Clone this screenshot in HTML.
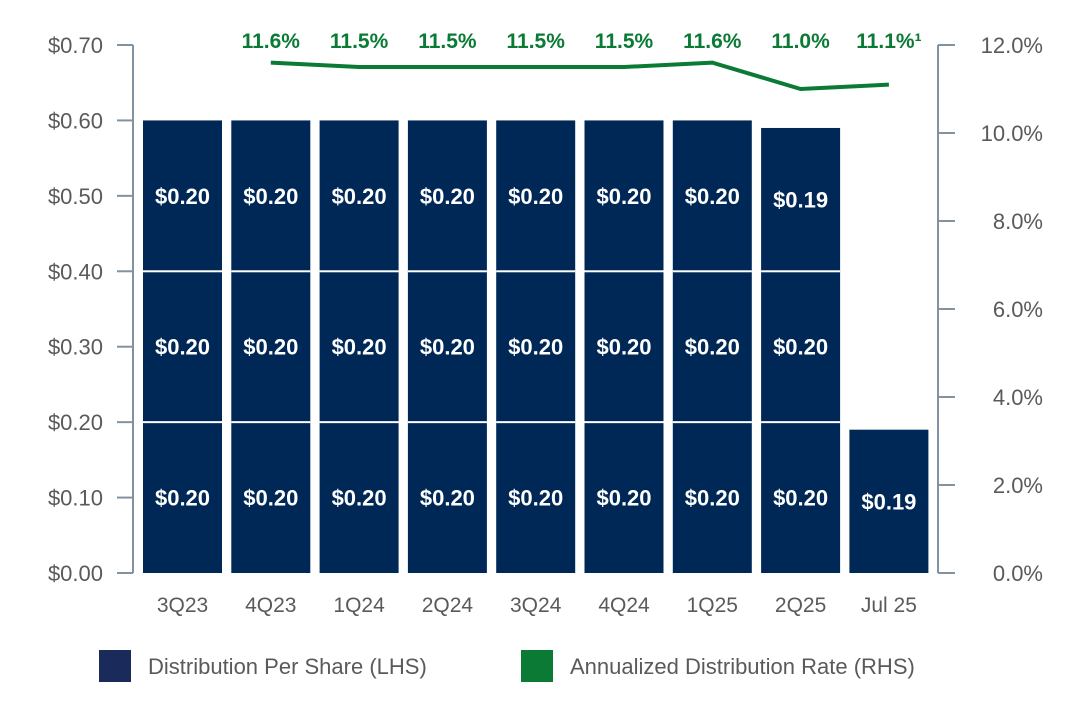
<!DOCTYPE html>
<html><head><meta charset="utf-8"><style>
body{margin:0;background:#fff;width:1076px;height:714px;overflow:hidden;font-family:"Liberation Sans",sans-serif}
svg text{font-family:"Liberation Sans",sans-serif}
</style></head><body>
<svg id="chart" width="1076" height="714" xmlns="http://www.w3.org/2000/svg"></svg>
<script>
const categories=["3Q23","4Q23","1Q24","2Q24","3Q24","4Q24","1Q25","2Q25","Jul 25"];
const segments=[[0.20,0.20,0.20],[0.20,0.20,0.20],[0.20,0.20,0.20],[0.20,0.20,0.20],[0.20,0.20,0.20],[0.20,0.20,0.20],[0.20,0.20,0.20],[0.20,0.20,0.19],[0.19]];
const segmentLabels=[["$0.20","$0.20","$0.20"],["$0.20","$0.20","$0.20"],["$0.20","$0.20","$0.20"],["$0.20","$0.20","$0.20"],["$0.20","$0.20","$0.20"],["$0.20","$0.20","$0.20"],["$0.20","$0.20","$0.20"],["$0.20","$0.20","$0.19"],["$0.19"]];
const rateCategories=["4Q23","1Q24","2Q24","3Q24","4Q24","1Q25","2Q25","Jul 25"];
const rates=[11.6,11.5,11.5,11.5,11.5,11.6,11.0,11.1];
const rateLabels=["11.6%","11.5%","11.5%","11.5%","11.5%","11.6%","11.0%","11.1%¹"];
const leftTicks=[0,0.1,0.2,0.3,0.4,0.5,0.6,0.7];
const leftTickLabels=["$0.00","$0.10","$0.20","$0.30","$0.40","$0.50","$0.60","$0.70"];
const rightTicks=[0,2,4,6,8,10,12];
const rightTickLabels=["0.0%","2.0%","4.0%","6.0%","8.0%","10.0%","12.0%"];

const NS="http://www.w3.org/2000/svg",svg=document.getElementById('chart');
const y0=573,yTop=45,xL=133,xR=938;
const yL=v=>y0-v/0.7*(y0-yTop);
const yR=v=>y0-v/12*(y0-yTop);
const step=88.3,bw=79;
const xC=i=>182.5+i*step;
function mk(t,a,p){const e=document.createElementNS(NS,t);for(const k in a)e.setAttribute(k,a[k]);(p||svg).appendChild(e);return e;}
const navy="#002856",green="#0a7a35",grey="#5a5a5a",axis="#8392a0";

categories.forEach((c,i)=>{
  const g=mk('g',{});
  
  
  let cum=0;
  segments[i].forEach((v,j)=>{
    const yb=yL(cum),yt=yL(cum+v);
    const r=mk('rect',{x:xC(i)-bw/2,y:yt+(j<segments[i].length-1?0:0),width:bw,height:yb-yt-(j>0?0:0),fill:navy},g);
    
    
    if(j>0){mk('rect',{x:xC(i)-bw/2,y:yb-1,width:bw,height:2,fill:'#fff'},g);}
    const t=mk('text',{x:xC(i),y:(yb+yt)/2+8,'text-anchor':'middle','font-size':'22','font-weight':'bold',fill:'#fff'},g);
    t.textContent=segmentLabels[i][j];
    
    
    cum+=v;
  });
  const cl=mk('text',{x:xC(i),y:612,'text-anchor':'middle','font-size':'21',fill:grey});
  cl.textContent=c;
  
  
});

// axes
const la=mk('line',{x1:xL,y1:yTop,x2:xL,y2:y0,stroke:axis,'stroke-width':2});

const ra=mk('line',{x1:xR,y1:yTop,x2:xR,y2:y0,stroke:axis,'stroke-width':2});

const ba=mk('line',{x1:117,y1:y0,x2:xL,y2:y0,stroke:axis,'stroke-width':2});
leftTicks.forEach((v,i)=>{
  mk('line',{x1:117,y1:yL(v),x2:xL,y2:yL(v),stroke:axis,'stroke-width':2});
  const t=mk('text',{x:103,y:yL(v)+8,'text-anchor':'end','font-size':'22',fill:grey});
  t.textContent=leftTickLabels[i];
  
});
rightTicks.forEach((v,i)=>{
  mk('line',{x1:xR,y1:yR(v),x2:955,y2:yR(v),stroke:axis,'stroke-width':2});
  const t=mk('text',{x:1043,y:yR(v)+8,'text-anchor':'end','font-size':'22',fill:grey});
  t.textContent=rightTickLabels[i];
  
});

// rate line
const pts=rateCategories.map((c,i)=>xC(categories.indexOf(c))+','+yR(rates[i])).join(' ');
const pl=mk('polyline',{points:pts,fill:'none',stroke:green,'stroke-width':4});

rateCategories.forEach((c,i)=>{
  const t=mk('text',{x:xC(categories.indexOf(c)),y:48,'text-anchor':'middle','font-size':'21','font-weight':'bold',fill:green});
  t.textContent=rateLabels[i];
  
});

// legend
const lg=mk('g',{});

const l1=mk('rect',{x:99,y:650,width:32,height:32,fill:'#1a2a5a'},lg);

const t1=mk('text',{x:148,y:674,'font-size':'22',fill:grey},lg);t1.textContent='Distribution Per Share (LHS)';

const l2=mk('rect',{x:521,y:650,width:32,height:32,fill:green},lg);

const t2=mk('text',{x:570,y:674,'font-size':'22',fill:grey},lg);t2.textContent='Annualized Distribution Rate (RHS)';

</script>
</body></html>
